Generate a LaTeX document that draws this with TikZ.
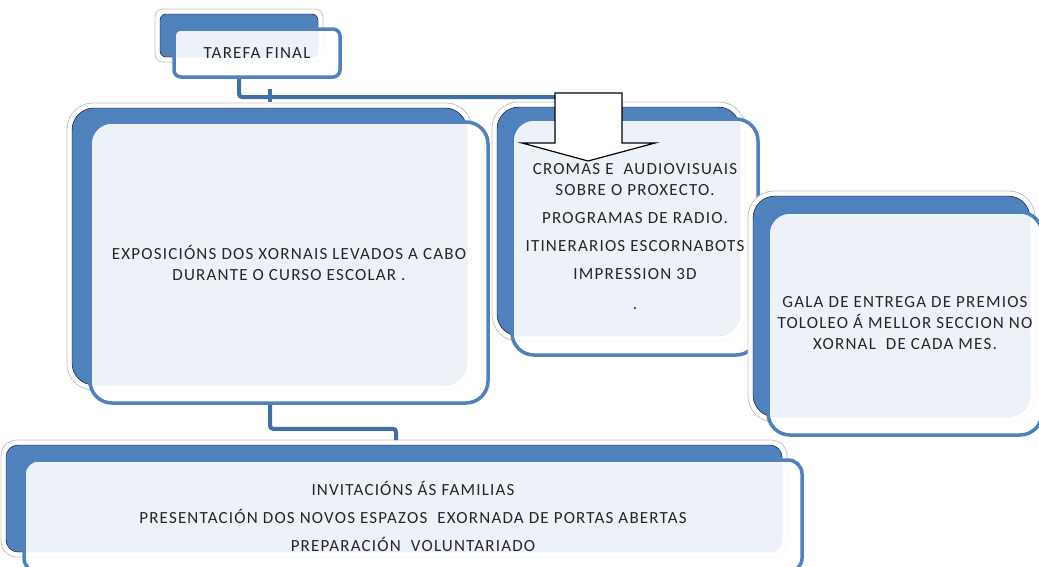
\documentclass[tikz,border=0pt]{standalone}
\usepackage{fontspec}
\setmainfont{Carlito}[LetterSpace=7]
\definecolor{boxblue}{HTML}{4F81BD}
\definecolor{linkblue}{HTML}{3F6FA8}
\definecolor{rimgray}{HTML}{C4C4C4}
\definecolor{inktext}{HTML}{262626}
\begin{document}
\begin{tikzpicture}[x=1pt,y=-1pt,
rim/.style={draw=rimgray,line width=0.8pt,fill=white},
back/.style={fill=boxblue},
front/.style={draw=boxblue,line width=3.5pt,fill=white,fill opacity=0.9,text opacity=1,
  text=inktext,align=center,inner sep=0pt,font=\fontsize{17}{21}\selectfont},
conn/.style={draw=linkblue,line width=4pt,rounded corners=3pt},
bigarrow/.style={draw=black,line width=1.2pt,fill=white}
]
\useasboundingbox (0,0) rectangle (1039,566);
\clip (0,0) rectangle (1039,566);

% title
\draw[rim,rounded corners=8pt] (155,9) rectangle (323,62);
\draw[back,rounded corners=6pt] (160,14) rectangle (318,57);
\node[front,rounded corners=7pt,minimum width=166pt,minimum height=48pt] (tarefa) at (257,53) {TAREFA FINAL};

% left box
\draw[rim,rounded corners=26pt] (67,103) rectangle (472,390);
\draw[back,rounded corners=22pt] (72,108) rectangle (467,385);
\node[front,rounded corners=22pt,minimum width=398pt,minimum height=281pt] (expo) at (289,262.5)
  {EXPOSICIÓNS DOS XORNAIS LEVADOS A CABO\\DURANTE O CURSO ESCOLAR .};

% middle box
\draw[rim,rounded corners=26pt] (492,102) rectangle (745,341);
\draw[back,rounded corners=22pt] (497,107) rectangle (740,336);
\node[front,rounded corners=22pt,minimum width=246pt,minimum height=236pt] (cromas) at (635,237)
  {CROMAS E\ \ AUDIOVISUAIS\\SOBRE O PROXECTO.\\[7pt]PROGRAMAS DE RADIO.\\[7pt]ITINERARIOS ESCORNABOTS\\[7pt]IMPRESSION 3D\\[9pt].};

% right box
\draw[rim,rounded corners=26pt] (748,191) rectangle (1035,422);
\draw[back,rounded corners=22pt] (753,196) rectangle (1030,417);
\node[front,rounded corners=22pt,minimum width=274pt,minimum height=223pt] (gala) at (905,323.5)
  {GALA DE ENTREGA DE PREMIOS\\TOLOLEO Á MELLOR SECCION NO\\XORNAL\ \ DE CADA MES.};

% bottom box
\draw[rim,rounded corners=16pt] (1,440) rectangle (787,557);
\draw[back,rounded corners=12pt] (6,445) rectangle (782,552);
\node[front,rounded corners=14pt,minimum width=778pt,minimum height=112pt] (familias) at (413,516)
  {INVITACIÓNS ÁS FAMILIAS\\[7pt]PRESENTACIÓN DOS NOVOS ESPAZOS\ \ EXORNADA DE PORTAS ABERTAS\\[7pt]PREPARACIÓN\ \ VOLUNTARIADO};

% connectors
\coordinate (hook) at (620,97);
\coordinate (expoin) at (270,102);
\coordinate (famin) at (396,440);
\draw[conn] ([xshift=-18pt]tarefa.south) |- (hook);
\draw[conn] (expoin |- 0,89) -- (expoin);
\draw[conn] ([xshift=-19pt]expo.south) -- ++(0,24) -| (famin);

% block arrow
\draw[bigarrow] (555,93) -- (622,93) -- (622,143) -- (655,143) -- (588,161)
  -- (522,143) -- (555,143) -- cycle;
\end{tikzpicture}
\end{document}
